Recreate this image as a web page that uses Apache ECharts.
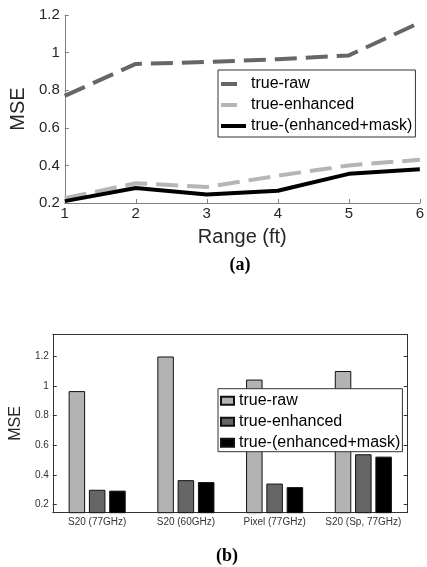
<!DOCTYPE html>
<html lang="en">

<head>
    <meta charset="UTF-8">
    <title>MSE</title>
    <style>
        body {
            margin: 0;
            background: #fff;
        }

        #chartA {
            width: 427px;
            height: 285px;
        }

        #chartB {
            width: 427px;
            height: 282px;
        }
    </style>
</head>

<body>

    <div id='chartA'></div>
    <div id='chartB'></div>

    <script src="https://cdn.jsdelivr.net/npm/echarts@6/dist/echarts.min.js"></script>
    <script>
        // (a) MSE vs range
        const ranges = [1, 2, 3, 4, 5, 6]
        const rawLine = [0.77, 0.94, 0.95, 0.965, 0.985, 1.16]
        const enhancedLine = [0.225, 0.305, 0.285, 0.345, 0.40, 0.43]
        const maskLine = [0.21, 0.28, 0.245, 0.265, 0.355, 0.38]

        // (b) MSE per device
        const devices = ['S20 (77GHz)', 'S20 (60GHz)', 'Pixel (77GHz)', 'S20 (Sp, 77GHz)']
        const rawBars = [0.966, 1.2, 1.044, 1.102]
        const enhancedBars = [0.299, 0.364, 0.341, 0.539]
        const maskBars = [0.293, 0.351, 0.317, 0.523]

        const names = ['true-raw', 'true-enhanced', 'true-(enhanced+mask)']
        const font = '"Liberation Sans", Arial, sans-serif'
        const labelColor = '#262626'

        // legend icons: a short dash (with an invisible sliver to keep the width) or a full line
        const dashIcon = 'path://M0,0h16v4h-16zM25,0h0.01v4h-0.01z'
        const solidIcon = 'path://M0,0h25v4h-25z'

        function pairs(values) {
            return ranges.map((x, i) => [x, values[i]])
        }

        const chartA = echarts.init(document.querySelector('#chartA'))
        chartA.setOption({
            animation: false,
            textStyle: { fontFamily: font },
            grid: { left: 59.3, top: 15, right: 4.7, bottom: 82 },
            xAxis: {
                type: 'value',
                min: 1,
                max: 6,
                interval: 1,
                name: 'Range (ft)',
                nameLocation: 'middle',
                nameGap: 24,
                nameTextStyle: { fontSize: 20, color: labelColor },
                axisLine: { lineStyle: { color: '#808080' } },
                axisTick: { inside: true, length: 4, lineStyle: { color: '#808080' } },
                axisLabel: { fontSize: 15, color: labelColor, margin: 3 },
                splitLine: { show: false }
            },
            yAxis: {
                type: 'value',
                min: 0.2,
                max: 1.2,
                interval: 0.2,
                name: 'MSE',
                nameLocation: 'middle',
                nameGap: 35,
                nameTextStyle: { fontSize: 20, color: labelColor },
                axisLine: { show: true, lineStyle: { color: '#808080' } },
                axisTick: { show: true, inside: true, length: 4, lineStyle: { color: '#808080' } },
                axisLabel: { fontSize: 15, color: labelColor, margin: 5 },
                splitLine: { show: false }
            },
            legend: {
                orient: 'vertical',
                left: 218,
                top: 70,
                padding: [6, 3, 3, 3],
                itemGap: 5,
                itemWidth: 25,
                itemHeight: 4,
                backgroundColor: '#fff',
                borderColor: '#333',
                borderWidth: 1,
                borderRadius: 0,
                textStyle: { fontSize: 16, lineHeight: 16, color: '#000', fontFamily: font },
                data: [
                    { name: names[0], icon: dashIcon },
                    { name: names[1], icon: dashIcon },
                    { name: names[2], icon: solidIcon }
                ]
            },
            series: [
                {
                    name: names[0], type: 'line', symbol: 'none', data: pairs(rawLine),
                    lineStyle: { color: '#666666', width: 4, type: [22, 9] },
                    itemStyle: { color: '#666666' }
                },
                {
                    name: names[1], type: 'line', symbol: 'none', data: pairs(enhancedLine),
                    lineStyle: { color: '#b5b5b5', width: 4, type: [22, 9] },
                    itemStyle: { color: '#b5b5b5' }
                },
                {
                    name: names[2], type: 'line', symbol: 'none', data: pairs(maskLine),
                    lineStyle: { color: '#000', width: 4 },
                    itemStyle: { color: '#000' }
                }
            ],
            graphic: [{
                type: 'text',
                style: {
                    text: '(a)', x: 240, y: 265, textAlign: 'center', textVerticalAlign: 'middle',
                    font: 'bold 18px "Liberation Serif", serif', fill: '#000'
                }
            }]
        })

        const barStyle = (color) => ({ color: color, borderColor: '#111', borderWidth: 1 })
        const boxAxis = { lineStyle: { color: '#333' } }

        const chartB = echarts.init(document.querySelector('#chartB'))
        chartB.setOption({
            animation: false,
            textStyle: { fontFamily: font },
            grid: { left: 44, top: 49.3, right: 19.3, bottom: 54.3 },
            xAxis: [{
                type: 'category',
                data: devices,
                axisLine: boxAxis,
                axisTick: { inside: true, length: 4, alignWithLabel: true, lineStyle: { color: '#333' } },
                axisLabel: { fontSize: 10, color: '#333', margin: 5, interval: 0 }
            }, {
                type: 'category',
                position: 'top',
                data: devices,
                axisLine: boxAxis,
                axisTick: { inside: true, length: 4, alignWithLabel: true, lineStyle: { color: '#333' } },
                axisLabel: { show: false }
            }],
            yAxis: [{
                type: 'value',
                min: 0.144,
                max: 1.35,
                splitNumber: 6,
                name: 'MSE',
                nameLocation: 'middle',
                nameGap: 19,
                nameTextStyle: { fontSize: 16, color: labelColor },
                axisLine: { show: true, lineStyle: { color: '#333' } },
                axisTick: { show: true, inside: true, length: 4, lineStyle: { color: '#333' } },
                axisLabel: { fontSize: 10, color: '#333', margin: 4, showMinLabel: false, showMaxLabel: false },
                splitLine: { show: false }
            }, {
                type: 'value',
                position: 'right',
                min: 0.144,
                max: 1.35,
                splitNumber: 6,
                axisLine: { show: true, lineStyle: { color: '#333' } },
                axisTick: { show: true, inside: true, length: 4, lineStyle: { color: '#333' } },
                axisLabel: { show: false },
                splitLine: { show: false }
            }],
            legend: {
                orient: 'vertical',
                left: 218,
                top: 103.7,
                padding: [4, 2, 1, 2],
                itemGap: 5,
                itemWidth: 13,
                itemHeight: 8,
                icon: 'rect',
                backgroundColor: '#fff',
                borderColor: '#333',
                borderWidth: 1,
                borderRadius: 0,
                textStyle: { fontSize: 16, lineHeight: 16, color: '#000', fontFamily: font },
                data: names
            },
            series: [
                { name: names[0], type: 'bar', data: rawBars, barWidth: 16.5, barGap: '23%', itemStyle: barStyle('#b3b3b3') },
                { name: names[1], type: 'bar', data: enhancedBars, barWidth: 16.5, barGap: '23%', itemStyle: barStyle('#666666') },
                { name: names[2], type: 'bar', data: maskBars, barWidth: 16.5, barGap: '23%', itemStyle: barStyle('#000000') }
            ],
            graphic: [{
                type: 'text',
                style: {
                    text: '(b)', x: 227, y: 271.7, textAlign: 'center', textVerticalAlign: 'middle',
                    font: 'bold 18px "Liberation Serif", serif', fill: '#000'
                }
            }]
        })
    </script>
</body>

</html>
